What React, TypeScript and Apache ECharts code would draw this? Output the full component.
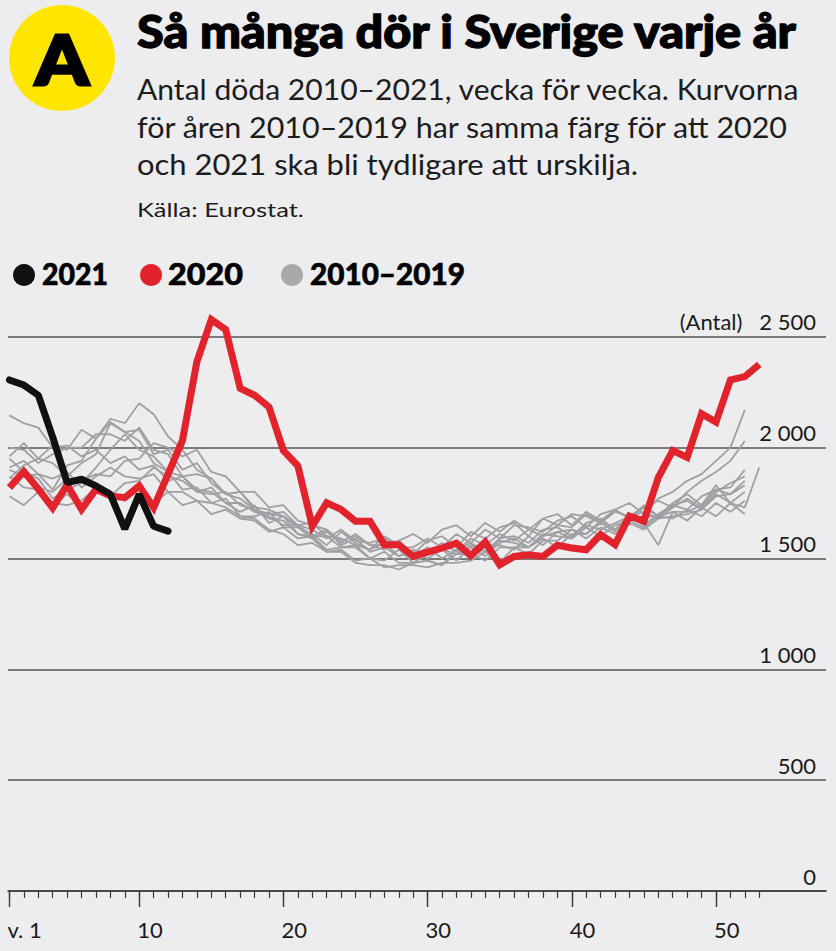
import React, { useEffect, useRef } from "react";
import * as echarts from "echarts";

const TITLE = "Så många dör i Sverige varje år";
const SUBTITLE = [
  "Antal döda 2010–2021, vecka för vecka. Kurvorna",
  "för åren 2010–2019 har samma färg för att 2020",
  "och 2021 ska bli tydligare att urskilja.",
];
const SOURCE = "Källa: Eurostat.";
const LEGEND = ["2021", "2020", "2010–2019"];

const Y_TICKS = [0, 500, 1000, 1500, 2000, 2500];
const X_MAJOR = [1, 10, 20, 30, 40, 50];
const X_MINOR = Array.from({ length: 53 }, (_, i) => i + 1);

const deaths2021 = [2305, 2282, 2236, 2047, 1842, 1857, 1827, 1789, 1633, 1789, 1645, 1623];

const deaths2020 = [
  1819, 1892, 1813, 1728, 1832, 1721, 1812, 1782, 1774, 1827,
  1729, 1880, 2032, 2388, 2577, 2532, 2267, 2236, 2183, 1986,
  1918, 1645, 1751, 1721, 1668, 1668, 1562, 1562, 1509, 1528,
  1547, 1569, 1513, 1574, 1471, 1509, 1516, 1509, 1559, 1547,
  1539, 1607, 1562, 1691, 1668, 1865, 1986, 1956, 2153, 2115,
  2305, 2320, 2375,
];

const g1 = [1860, 1920, 1950, 2010, 1990, 2080, 2040, 2130, 2110, 2200, 2150, 2050, 1990, 1900, 1860, 1790, 1800, 1730, 1720, 1690, 1650, 1660, 1600, 1590, 1560, 1540, 1570, 1510, 1530, 1500, 1540, 1520, 1560, 1530, 1580, 1570, 1550, 1610, 1600, 1590, 1650, 1630, 1660, 1690, 1650, 1700, 1740, 1720, 1780, 1810, 1790, 1830];
const g2 = [2145, 2110, 2090, 2000, 2010, 1960, 1990, 1930, 1960, 1900, 1920, 1850, 1870, 1800, 1820, 1750, 1710, 1740, 1660, 1690, 1610, 1600, 1630, 1560, 1590, 1530, 1550, 1510, 1540, 1520, 1570, 1530, 1590, 1560, 1610, 1580, 1630, 1600, 1650, 1640, 1700, 1660, 1710, 1690, 1730, 1760, 1730, 1800, 1850, 1890, 1940, 2030];
const g3 = [1900, 1870, 1880, 1810, 1920, 1940, 2040, 2115, 2070, 2080, 1970, 1990, 1900, 1930, 1840, 1790, 1800, 1720, 1700, 1690, 1640, 1610, 1560, 1620, 1570, 1540, 1600, 1560, 1520, 1580, 1600, 1550, 1620, 1590, 1640, 1660, 1600, 1680, 1650, 1700, 1690, 1660, 1720, 1750, 1700, 1770, 1800, 1850, 1880, 1940, 2000, 2170];
const g4 = [1820, 1870, 1820, 1800, 1860, 1850, 1880, 1870, 1940, 1950, 2020, 2000, 1960, 1990, 1890, 1870, 1800, 1800, 1730, 1740, 1670, 1650, 1630, 1580, 1600, 1560, 1540, 1580, 1510, 1550, 1500, 1540, 1570, 1530, 1590, 1600, 1570, 1630, 1640, 1600, 1660, 1680, 1630, 1690, 1710, 1680, 1730, 1770, 1730, 1800, 1840, 1870];
const g5 = [1780, 1740, 1800, 1740, 1790, 1730, 1800, 1790, 1760, 1830, 1750, 1800, 1740, 1760, 1700, 1720, 1680, 1670, 1620, 1640, 1590, 1600, 1540, 1550, 1560, 1500, 1490, 1540, 1480, 1520, 1540, 1490, 1550, 1510, 1570, 1590, 1550, 1600, 1620, 1590, 1640, 1600, 1650, 1670, 1640, 1690, 1680, 1720, 1690, 1750, 1710, 1760];
const g6 = [2000, 1990, 1930, 1970, 2000, 2000, 2060, 2060, 2030, 2090, 1990, 1970, 1870, 1880, 1860, 1790, 1770, 1720, 1700, 1710, 1650, 1630, 1590, 1630, 1580, 1570, 1590, 1550, 1550, 1590, 1550, 1610, 1570, 1630, 1590, 1650, 1640, 1620, 1670, 1690, 1640, 1700, 1720, 1680, 1740, 1690, 1750, 1790, 1740, 1830, 1750, 1730, 1910];
const g7 = [1910, 1940, 1880, 1860, 1890, 1820, 1870, 1910, 1870, 1860, 1880, 1800, 1800, 1760, 1750, 1770, 1690, 1690, 1710, 1640, 1640, 1590, 1620, 1570, 1610, 1560, 1560, 1580, 1610, 1570, 1630, 1650, 1600, 1660, 1620, 1670, 1630, 1680, 1700, 1650, 1710, 1670, 1720, 1680, 1730, 1690, 1740, 1760, 1720, 1790, 1750, 1800];
const g8 = [1950, 1890, 1860, 1770, 1810, 1840, 1910, 1990, 2060, 1990, 1960, 1890, 1870, 1810, 1800, 1750, 1750, 1710, 1690, 1650, 1650, 1600, 1600, 1550, 1550, 1500, 1530, 1480, 1480, 1490, 1470, 1520, 1520, 1490, 1550, 1550, 1520, 1580, 1580, 1630, 1590, 1640, 1610, 1660, 1630, 1680, 1690, 1700, 1720, 1780, 1790, 1850];
const g9 = [1870, 1820, 1810, 1750, 1740, 1760, 1820, 1780, 1840, 1850, 1910, 1870, 1850, 1800, 1790, 1800, 1740, 1720, 1680, 1670, 1610, 1590, 1530, 1530, 1480, 1470, 1470, 1450, 1480, 1490, 1470, 1540, 1500, 1550, 1560, 1540, 1600, 1560, 1620, 1630, 1610, 1670, 1630, 1700, 1660, 1560, 1710, 1670, 1730, 1690, 1750, 1700];
const g10 = [1960, 2020, 1950, 1930, 1870, 1930, 1970, 2110, 2070, 2030, 1930, 1890, 1810, 1820, 1750, 1730, 1690, 1680, 1630, 1610, 1560, 1570, 1530, 1540, 1490, 1500, 1460, 1470, 1470, 1460, 1480, 1480, 1490, 1530, 1480, 1550, 1550, 1590, 1550, 1610, 1610, 1660, 1620, 1680, 1690, 1690, 1710, 1710, 1740, 1810, 1820, 1900];
const grayYears = [g1, g2, g3, g4, g5, g6, g7, g8, g9, g10];

const BG = "#ededf0";
const RED = "#e3232b";
const BLACK = "#111111";
const GRAY = "#a0a0a4";
const FONT = "Lato";

const toPairs = (arr: number[]) => arr.map((v, i) => [i + 1, v]);
const fmt = (v: number) => (v >= 1000 ? `${Math.floor(v / 1000)} ${String(v % 1000).padStart(3, "0")}` : String(v));

let ctx2d: CanvasRenderingContext2D | null = null;
function measure(text: string, font: string): number {
  if (!ctx2d) ctx2d = document.createElement("canvas").getContext("2d");
  if (!ctx2d) return 0;
  ctx2d.font = font;
  return ctx2d.measureText(text).width;
}
function fitText(text: string, x: number, y: number, font: string, target: number, extra: any = {}) {
  const w = measure(text, font);
  const sx = w > 0 ? target / w : 1;
  return {
    type: "text",
    x,
    y,
    scaleX: sx,
    style: { text, font, fill: "#000", verticalAlign: "middle", ...extra },
  };
}

export default function App() {
  const ref = useRef<HTMLDivElement>(null);
  useEffect(() => {
    if (!ref.current) return;
    const chart = echarts.init(ref.current, null, { renderer: "svg" });
    const xMin = 0.9;
    const xMax = 57.63;
    const series: any[] = grayYears.map((arr, i) => ({
      type: "line",
      name: "2010–2019 " + i,
      data: toPairs(arr),
      symbol: "none",
      lineStyle: { color: GRAY, width: 1.8 },
      z: 2,
      silent: true,
      clip: false,
    }));
    series.push({
      type: "line",
      name: "2020",
      data: toPairs(deaths2020),
      symbol: "none",
      clip: false,
      lineStyle: { color: RED, width: 7, join: "miter" },
      z: 3,
    });
    series.push({
      type: "line",
      name: "2021",
      data: toPairs(deaths2021),
      symbol: "none",
      clip: false,
      lineStyle: { color: BLACK, width: 7, cap: "round" },
      z: 4,
    });

    const legendX = [24, 151, 292];
    const legendColors = [BLACK, RED, "#a9a9ac"];
    const legendTextX = [42, 168, 310];
    const legendWidths = [66, 75, 155];
    const subWidths = [664, 652, 501];

    chart.setOption({
      animation: false,
      backgroundColor: BG,
      textStyle: { fontFamily: FONT },
      grid: { left: 8, right: 10, top: 336.7, bottom: 60, containLabel: false },
      xAxis: [
        {
          type: "value",
          min: xMin,
          max: xMax,
          position: "bottom",
          axisLine: { show: true, lineStyle: { color: "#3a3a3a", width: 1.6 } },
          axisTick: { show: true, customValues: X_MINOR, length: 7, lineStyle: { color: "#3a3a3a", width: 1.2 } },
          axisLabel: { show: false },
          splitLine: { show: false },
        },
        {
          type: "value",
          min: xMin,
          max: xMax,
          position: "bottom",
          axisLine: { show: false },
          axisTick: { show: true, customValues: X_MAJOR, length: 16, lineStyle: { color: "#3a3a3a", width: 1.4 } },
          axisLabel: {
            show: true,
            customValues: X_MAJOR,
            formatter: (v: number) => (v === 1 ? "v. 1" : String(v)),
            align: "left",
            margin: 27,
            fontSize: 22,
            lineHeight: 22,
            color: "#1a1a1a",
            fontFamily: FONT,
            padding: [0, 0, 0, -2],
          },
          splitLine: { show: false },
        },
      ],
      yAxis: {
        type: "value",
        min: 0,
        max: 2500,
        interval: 500,
        position: "right",
        axisLine: { show: false },
        axisTick: { show: false },
        splitLine: { show: true, lineStyle: { color: "#555555", width: 1.5 } },
        axisLabel: {
          inside: true,
          margin: 10,
          fontSize: 22,
          lineHeight: 30,
          verticalAlign: "bottom",
          color: "#1a1a1a",
          fontFamily: FONT,
          customValues: Y_TICKS,
          formatter: (v: number) => (v === 2500 ? `(Antal)   ${fmt(v)}` : fmt(v)),
        },
      },
      series,
      graphic: [
        { type: "circle", shape: { cx: 62, cy: 58, r: 53 }, style: { fill: "#ffe600" } },
        {
          type: "text",
          x: 62,
          y: 59,
          scaleX: 1.12,
          style: {
            text: "A",
            font: `900 68px ${FONT}`,
            fill: "#000",
            stroke: "#000",
            lineWidth: 3,
            align: "center",
            verticalAlign: "middle",
          },
        },
        fitText(TITLE, 137, 31, `900 45px ${FONT}`, 661, { stroke: "#000", lineWidth: 1.3 }),
        ...SUBTITLE.map((t, i) =>
          fitText(t, 137, 89 + i * 37.5, `400 28px ${FONT}`, subWidths[i], { fill: "#1c1c1c" })
        ),
        fitText(SOURCE, 137, 209, `400 20px ${FONT}`, 167, { fill: "#1c1c1c" }),
        ...LEGEND.flatMap((t, i) => [
          { type: "circle", shape: { cx: legendX[i], cy: 275, r: 11 }, style: { fill: legendColors[i] } },
          fitText(t, legendTextX[i], 273, `900 31px ${FONT}`, legendWidths[i], { stroke: "#000", lineWidth: 0.6 }),
        ]),
      ],
    });
    return () => chart.dispose();
  }, []);
  return (
    <div
      ref={ref}
      style={{ position: "absolute", left: 0, top: 0, width: 836, height: 951, background: BG }}
    />
  );
}
